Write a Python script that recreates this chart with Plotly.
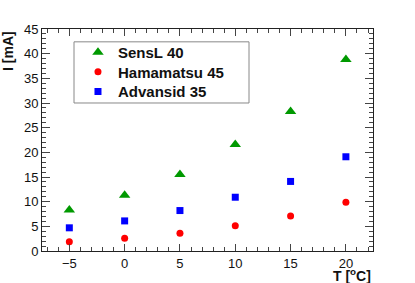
import plotly.graph_objects as go

temps = [-5, 0, 5, 10, 15, 20]
sensl = [8.3, 11.3, 15.5, 21.6, 28.3, 38.8]
hamamatsu = [1.9, 2.6, 3.6, 5.1, 7.1, 9.9]
advansid = [4.7, 6.1, 8.2, 10.9, 14.1, 19.1]

names = ["SensL 40", "Hamamatsu 45", "Advansid 35"]
FONT = "Liberation Sans, Arial, Helvetica, sans-serif"

fig = go.Figure()
fig.add_trace(go.Scatter(x=temps, y=sensl, mode="markers", name="<b>" + names[0] + "</b>",
                         legend="legend",
                         marker=dict(symbol="triangle-up", size=10, color="#009900")))
fig.add_trace(go.Scatter(x=temps, y=hamamatsu, mode="markers", name="<b>" + names[1] + "</b>",
                         legend="legend2",
                         marker=dict(symbol="circle", size=7, color="#ff0000")))
fig.add_trace(go.Scatter(x=temps, y=advansid, mode="markers", name="<b>" + names[2] + "</b>",
                         legend="legend3",
                         marker=dict(symbol="square", size=7, color="#0000ff")))

axis_common = dict(
    showgrid=False, zeroline=False, showline=True, linecolor="#222", linewidth=1,
    mirror="ticks", ticks="inside", tickcolor="#444", tickwidth=1,
    tickfont=dict(family=FONT, size=13, color="#111"),
)
fig.update_xaxes(range=[-7.47, 22.45], dtick=5, tick0=0, ticklen=7,
                 minor=dict(dtick=1, ticklen=4, ticks="inside", tickcolor="#444"),
                 **axis_common)
fig.update_yaxes(range=[0, 45], dtick=5, tick0=0, ticklen=8,
                 minor=dict(dtick=1, ticklen=4, ticks="inside", tickcolor="#444"),
                 **axis_common)

fig.add_annotation(text="<b>T [<sup>o</sup>C]</b>", xref="paper", yref="paper",
                   x=1.0, y=0, xanchor="right", yanchor="top", yshift=-13,
                   showarrow=False, font=dict(family=FONT, size=14, color="#111"))
fig.add_annotation(text="<b>I [mA]</b>", xref="paper", yref="paper",
                   x=0, y=1.0, xanchor="left", yanchor="top", xshift=-44,
                   textangle=-90, showarrow=False,
                   font=dict(family=FONT, size=14, color="#111"))

# legend frame
fig.add_shape(type="rect", xref="paper", yref="paper",
              x0=0.0967, x1=0.6254, y0=0.6667, y1=0.9422,
              line=dict(color="#888", width=1), fillcolor="white", layer="below")

leg_common = dict(xanchor="left", yanchor="middle", bgcolor="rgba(0,0,0,0)",
                  borderwidth=0, font=dict(family=FONT, size=15, color="#111"))
fig.update_layout(
    width=415, height=283,
    margin=dict(l=42, r=42, t=29, b=29),
    paper_bgcolor="white", plot_bgcolor="white",
    showlegend=True,
    legend=dict(x=0.1087, y=0.8947, **leg_common),
    legend2=dict(x=0.1087, y=0.8058, **leg_common),
    legend3=dict(x=0.1087, y=0.7169, **leg_common),
)

fig.write_html("out.html", config={"displayModeBar": False},
               post_script="document.body.style.margin='0';document.body.style.overflow='hidden';")
